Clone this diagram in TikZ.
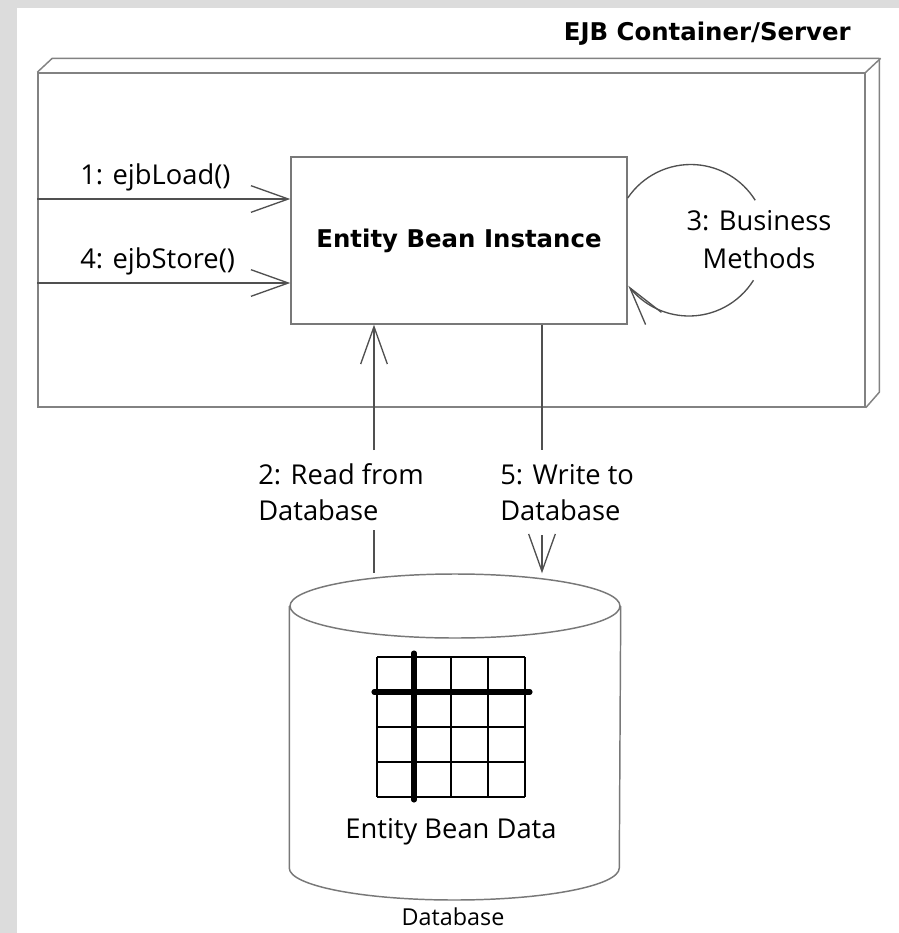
\documentclass[tikz,border=0pt]{standalone}
\usepackage{fontspec}
\setmainfont{Open Sans}
\newfontfamily\heavyfont{DejaVu Sans}
\usetikzlibrary{arrows.meta,bending,shapes.geometric}
\definecolor{bggray}{RGB}{220,220,220}
\definecolor{contcol}{RGB}{130,130,130}
\definecolor{boxcol}{RGB}{120,120,120}
\definecolor{arrcol}{RGB}{80,80,80}
\begin{document}
\begin{tikzpicture}[x=0.75pt,y=-0.75pt,
  contline/.style={draw=contcol,line width=1.1pt},
  boxst/.style={draw=boxcol,line width=1.1pt,inner sep=0pt},
  conn/.style={draw=arrcol,line width=1pt},
  barb/.style={-{Straight Barb[length=28pt,width=20pt,sharp]}},
  loopbarb/.style={-{Straight Barb[length=29pt,width=15pt,sharp,flex=0.8]}},
  lbl/.style={font=\fontsize{20.5}{27}\selectfont,inner sep=0pt,align=left},
  boldlbl/.style={font=\heavyfont\bfseries\fontsize{18.3}{22}\selectfont,inner sep=0pt},
  gridst/.style={draw=black,line width=1.1pt},
  thickst/.style={draw=black,line width=3.8pt,line cap=round}]

% canvas
\fill[bggray] (0,0) rectangle (899,933);
\fill[white] (17,8) rectangle (899,933);
\useasboundingbox (0,0) rectangle (899,933);

% container (front face as a node, depth drawn behind it)
\node[contline,inner sep=0pt,minimum width=620.25pt,minimum height=250.5pt] (container) at (451.5,240) {};
\draw[contline,line join=round] (container.north west) -- ++(15,-14) -- ++(827,0) -- ++(0,334) -- (container.south east);
\draw[contline] (container.north east) -- ++(15,-14);
\node[boldlbl,anchor=base east] (title) at (851,40) {EJB Container/Server};

% entity bean instance
\node[boxst,minimum width=252pt,minimum height=125.25pt,boldlbl] (bean) at (459,240.5) {Entity Bean Instance};

% calls from the container
\draw[conn,barb] (container.west |- 0,199) -- (bean.west |- 0,199);
\draw[conn,barb] (container.west |- 0,283) -- (bean.west |- 0,283);
\node[lbl,anchor=base west] (l1) at (80,184) {1: ejbLoad()};
\node[lbl,anchor=base west] (l4) at (80,268) {4: ejbStore()};

% business methods self call
\coordinate (loopc) at (689,240);
\draw[conn] (bean.east |- 0,198) arc[start angle=-146,end angle=-32,radius=76];
\draw[conn,loopbarb] (loopc) ++(32:76) arc[start angle=32,end angle=143,radius=76];
\node[lbl,align=center,anchor=base,font=\fontsize{20.5}{28}\selectfont] (l3) at (759,268) {3: Business\\Methods};

% database cylinder
\node[draw=boxcol,line width=1.1pt,ellipse,inner sep=0pt,minimum width=247.5pt,minimum height=48pt] (dbtop) at (455,606) {};
\draw[draw=boxcol,line width=1.1pt] (dbtop.west) -- ++(0,262) arc[start angle=180,end angle=0,x radius=165,y radius=32] -- (dbtop.east);

% read / write
\coordinate (r2a) at (374,450);
\coordinate (r2b) at (374,530);
\draw[conn,barb] (r2a) -- (r2a |- bean.south);
\draw[conn] (r2b) -- (r2b |- dbtop.north);
\node[lbl,anchor=base west] (l2) at (258,520) {2: Read from\\Database};

\coordinate (w5a) at (542,450);
\coordinate (w5b) at (542,535);
\draw[conn] (w5a |- bean.south) -- (w5a);
\draw[conn,barb] (w5b) -- (w5b |- dbtop.north);
\node[lbl,anchor=base west] (l5) at (500,520) {5: Write to\\Database};

% table of entity data
\foreach \gx in {377,414,451,488,525} \draw[gridst] (\gx,657) -- (\gx,797);
\foreach \gy in {657,692,727,762,797} \draw[gridst] (377,\gy) -- (525,\gy);
\draw[thickst] (414,653) -- (414,800);
\draw[thickst] (374,692) -- (530,692);
\node[lbl,anchor=base] (ldata) at (451,838) {Entity Bean Data};
\node[font=\fontsize{17.5}{20}\selectfont,inner sep=0pt,anchor=base] (ldb) at (453,925) {Database};
\end{tikzpicture}
\end{document}
